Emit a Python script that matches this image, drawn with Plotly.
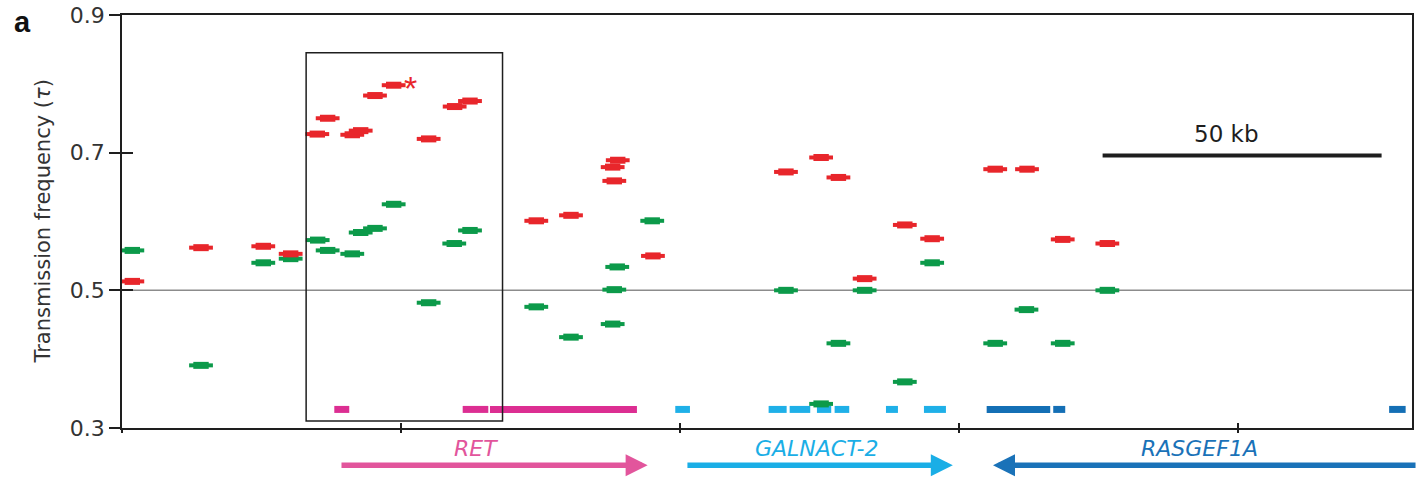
import plotly.graph_objects as go

# ---- data -------------------------------------------------------------
# Marker positions along the locus (kb) and transmission frequency (tau)
red_kb = [1.85, 14.16, 25.32, 30.23, 35.0, 36.86, 41.27, 42.78, 45.34, 48.69,
          54.96, 59.62, 62.37, 74.25, 80.47, 87.94, 88.85, 88.23, 95.16, 119.0,
          125.3, 128.4, 133.1, 140.3, 145.2, 156.5, 162.2, 168.6, 176.6]
red_tau = [0.513, 0.562, 0.564, 0.553, 0.727, 0.750, 0.726, 0.732, 0.783, 0.798,
           0.720, 0.767, 0.775, 0.601, 0.609, 0.679, 0.689, 0.659, 0.550, 0.672,
           0.693, 0.664, 0.517, 0.595, 0.575, 0.676, 0.676, 0.574, 0.568]

green_kb = [1.85, 14.16, 25.32, 30.23, 35.07, 36.86, 41.27, 42.78, 45.34, 48.69,
            54.96, 59.55, 62.37, 74.25, 80.47, 87.94, 88.23, 88.76, 95.03, 119.0,
            125.3, 128.4, 133.1, 140.3, 145.2, 156.5, 162.1, 168.6, 176.6]
green_tau = [0.558, 0.391, 0.540, 0.546, 0.573, 0.558, 0.553, 0.584, 0.590, 0.625,
             0.482, 0.568, 0.587, 0.476, 0.432, 0.451, 0.501, 0.534, 0.601, 0.500,
             0.335, 0.423, 0.500, 0.367, 0.540, 0.423, 0.472, 0.423, 0.500]

# highlighted marker (asterisk)
star_index = 9

# Exon blocks (start, end in kb)
ret_exon_start = [38.05, 61.06, 65.95]
ret_exon_end = [40.73, 65.65, 92.29]
galnact_exon_start = [99.16, 115.89, 119.66, 124.55, 127.72, 136.92, 143.73]
galnact_exon_end = [101.79, 119.12, 123.35, 127.11, 130.34, 139.07, 147.67]
rasgef_exon_start = [154.97, 166.9, 227.1]
rasgef_exon_end = [166.36, 169.05, 230.06]
exon_tau = 0.327

# Genes: name, arrow tail and head (kb), label centre (kb)
gene_names = ["RET", "GALNACT-2", "RASGEF1A"]
gene_tail_kb = [39.07, 101.07, 232.1]
gene_head_kb = [94.2, 148.9, 156.1]
gene_label_kb = [63.4, 124.5, 193.2]
gene_colors = ["#e2559c", "#1aaee6", "#1a72b8"]
exon_colors = ["#dc2e92", "#1fb0e8", "#146fb5"]

# Highlighted window (kb, tau)
box_kb = [33.0, 68.2]
box_tau = [0.310, 0.845]

# Scale bar
scale_bar_kb = [175.75, 225.75]
scale_bar_tau = 0.696
scale_bar_label = "50 kb"

x_max = 231.2
y_ticks = [0.3, 0.5, 0.7, 0.9]
x_ticks = [0, 50, 100, 150, 200]
null_tau = 0.5

RED = "#e8262b"
GREEN = "#0c9a4a"
AXIS = "#1e1e1e"
FONT = "DejaVu Sans"


def segments(starts, ends, level):
    xs, ys = [], []
    for s, e in zip(starts, ends):
        xs += [s, e, None]
        ys += [level, level, None]
    return xs, ys


fig = go.Figure()

# null expectation line
fig.add_trace(go.Scatter(x=[0, x_max], y=[null_tau, null_tau], mode="lines",
                         line=dict(color="#8c8c8c", width=1.5),
                         hoverinfo="skip", showlegend=False))

# exon blocks
for starts, ends, col in zip([ret_exon_start, galnact_exon_start, rasgef_exon_start],
                             [ret_exon_end, galnact_exon_end, rasgef_exon_end],
                             exon_colors):
    xs, ys = segments(starts, ends, exon_tau)
    fig.add_trace(go.Scatter(x=xs, y=ys, mode="lines",
                             line=dict(color=col, width=7),
                             hoverinfo="skip", showlegend=False))

# transmission frequencies: flat oval dashes built from two stacked bars
for xs, ys, col in [(green_kb, green_tau, GREEN), (red_kb, red_tau, RED)]:
    fig.add_trace(go.Scatter(x=xs, y=ys, mode="markers",
                             marker=dict(symbol="line-ew", size=17,
                                         line=dict(color=col, width=4)),
                             hoverinfo="x+y", showlegend=False))
    fig.add_trace(go.Scatter(x=xs, y=ys, mode="markers",
                             marker=dict(symbol="line-ew", size=11,
                                         line=dict(color=col, width=7)),
                             hoverinfo="skip", showlegend=False))

# scale bar
fig.add_trace(go.Scatter(x=scale_bar_kb, y=[scale_bar_tau] * 2, mode="lines",
                         line=dict(color=AXIS, width=4),
                         hoverinfo="skip", showlegend=False))

# overlay axes carrying the inner halves of the crossing ticks
fig.add_trace(go.Scatter(x=[0], y=[0.3], xaxis="x2", yaxis="y2", mode="markers",
                         marker=dict(opacity=0), hoverinfo="skip", showlegend=False))

# highlighted window
fig.add_shape(type="rect", xref="x", yref="y",
              x0=box_kb[0], x1=box_kb[1], y0=box_tau[0], y1=box_tau[1],
              line=dict(color=AXIS, width=1.5), fillcolor="rgba(0,0,0,0)")

annotations = []
# asterisk next to the highlighted marker
annotations.append(dict(x=red_kb[star_index], y=red_tau[star_index],
                        xref="x", yref="y", text="*", showarrow=False,
                        xanchor="center", yanchor="middle", xshift=17, yshift=-3,
                        font=dict(family="Liberation Sans", size=34, color=RED)))

# gene arrows and names below the axis
ARROW_Y = -0.09
LABEL_Y = -0.05
for name, tail, head, lab, col in zip(gene_names, gene_tail_kb, gene_head_kb,
                                      gene_label_kb, gene_colors):
    annotations.append(dict(x=head, y=ARROW_Y, xref="x", yref="paper",
                            ax=tail, axref="x", ay=0, ayref="pixel",
                            text="", showarrow=True, arrowhead=2, arrowsize=0.8,
                            arrowwidth=5.5, arrowcolor=col, standoff=0))
    annotations.append(dict(x=lab, y=LABEL_Y, xref="x", yref="paper",
                            text=f"<i>{name}</i>", showarrow=False,
                            xanchor="center", yanchor="middle",
                            font=dict(family=FONT, size=22, color=col)))

annotations.append(dict(x=198.0, y=0.727, xref="x", yref="y", text=scale_bar_label,
                        showarrow=False, xanchor="center", yanchor="middle",
                        font=dict(family=FONT, size=23, color=AXIS)))
annotations.append(dict(x=-0.062, y=0.5, xref="paper", yref="paper",
                        text="Transmission frequency (<i>τ</i>)", textangle=-90,
                        showarrow=False, xanchor="center", yanchor="middle",
                        font=dict(family=FONT, size=21, color="#333333")))
annotations.append(dict(x=-0.077, y=0.983, xref="paper", yref="paper",
                        text="<b>a</b>", showarrow=False,
                        xanchor="center", yanchor="middle",
                        font=dict(family="Liberation Sans", size=29, color="#111111")))

fig.update_layout(
    width=1417, height=483,
    margin=dict(l=122, r=5, t=15, b=55, autoexpand=False),
    paper_bgcolor="white", plot_bgcolor="white",
    showlegend=False,
    annotations=annotations,
    xaxis=dict(range=[0, x_max], tickvals=x_ticks, showticklabels=False,
               ticks="outside", ticklen=3, tickwidth=1.5, tickcolor=AXIS,
               showline=True, linecolor=AXIS, linewidth=1.5, mirror=True,
               showgrid=False, zeroline=False),
    yaxis=dict(range=[0.3, 0.9], tickvals=y_ticks,
               ticktext=[f"{v:.1f}" for v in y_ticks],
               ticks="outside", ticklen=11, tickwidth=1.5, tickcolor=AXIS,
               tickfont=dict(family=FONT, size=22, color="#333333"),
               showline=True, linecolor=AXIS, linewidth=1.5, mirror=True,
               showgrid=False, zeroline=False),
    xaxis2=dict(range=[0, x_max], tickvals=x_ticks, showticklabels=False,
                overlaying="x", anchor="y2", side="bottom",
                ticks="inside", ticklen=5, tickwidth=1.5, tickcolor=AXIS,
                showline=False, showgrid=False, zeroline=False),
    yaxis2=dict(range=[0.3, 0.9], tickvals=y_ticks, showticklabels=False,
                overlaying="y", anchor="x2", side="left",
                ticks="inside", ticklen=11, tickwidth=1.5, tickcolor=AXIS,
                showline=False, showgrid=False, zeroline=False),
)

fig.write_html("out.html")
